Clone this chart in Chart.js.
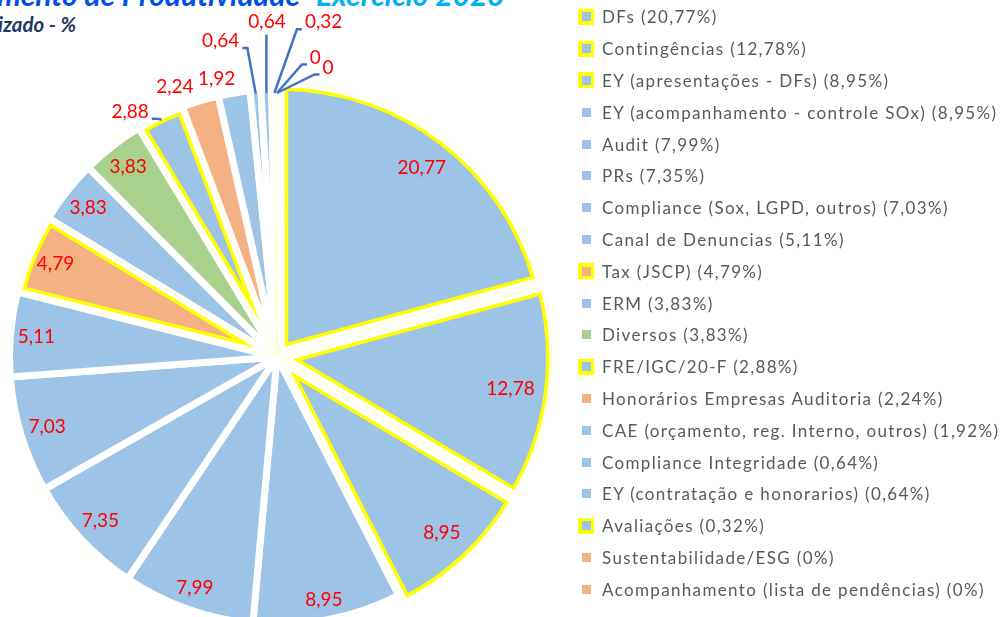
<!DOCTYPE html>
<html lang="pt-BR">
<head>
<meta charset="utf-8">
<title>Acompanhamento de Produtividade</title>
<script src="https://cdn.jsdelivr.net/npm/chart.js@4.4.1/dist/chart.umd.min.js"></script>
<style>
  html, body { margin: 0; padding: 0; background: #fff; overflow: hidden; }
  body { width: 1004px; height: 617px; position: relative; font-family: Lato, "Open Sans", sans-serif; }
  #grafico { position: absolute; left: 0; top: 0; width: 580px; height: 623px; }
  .titulo { position: absolute; top: -21px; font: italic 700 30px Lato, sans-serif; line-height: 30px; white-space: nowrap; }
  #tit1 { right: 704px; color: #0050E6; }
  #tit2 { left: 316px; color: #00B0F0; }
  #subtitulo { position: absolute; right: 928px; top: 12px; font: italic 700 20.5px Lato, sans-serif; color: #1F3864; white-space: nowrap; }
  #legenda { position: absolute; left: 578px; top: 1px; margin: 0; padding: 0; list-style: none; }
  #legenda li { height: 31.8px; display: flex; align-items: center; font-size: 17px; letter-spacing: 1.35px; color: #595959; white-space: nowrap; }
  .marca { width: 16px; height: 16px; margin-right: 8px; display: flex; align-items: center; justify-content: center; }
  .marca span { width: 9px; height: 9px; display: block; }
  .marca.destaque { background: #FFFF00; }
</style>
</head>
<body>
<div class="titulo" id="tit1">Acompanhamento de Produtividade</div>
<div class="titulo" id="tit2">Exercício 2023</div>
<div id="subtitulo">Realizado - %</div>
<canvas id="grafico" width="580" height="623"></canvas>
<ul id="legenda"></ul>
<script>
// dados (% das horas)
const categorias = [
    'DFs', 'Contingências', 'EY (apresentações - DFs)', 'EY (acompanhamento - controle SOx)',
    'Audit', 'PRs', 'Compliance (Sox, LGPD, outros)', 'Canal de Denuncias', 'Tax (JSCP)',
    'ERM', 'Diversos', 'FRE/IGC/20-F', 'Honorários Empresas Auditoria',
    'CAE (orçamento, reg. Interno, outros)', 'Compliance Integridade',
    'EY (contratação e honorarios)', 'Avaliações', 'Sustentabilidade/ESG',
    'Acompanhamento (lista de pendências)'
];
const valores = [20.77, 12.78, 8.95, 8.95, 7.99, 7.35, 7.03, 5.11, 4.79, 3.83, 3.83, 2.88, 2.24, 1.92, 0.64, 0.64, 0.32, 0, 0];
// itens marcados em amarelo
const destaque = [true, true, true, false, false, false, false, false, true, false, false, true, false, false, false, false, true, false, false];
// grupo de cor de cada item
const grupo = ['a', 'a', 'a', 'a', 'a', 'a', 'a', 'a', 'l', 'a', 'v', 'a', 'l', 'a', 'a', 'a', 'a', 'l', 'l'];

const CORES = { a: '#9DC3E6', l: '#F4B183', v: '#A9D18E' };
const AMARELO = '#FFFF00';
const BORDA = 7;

const fmt = v => String(v).replace('.', ',');

// rotulos fora da fatia: [desvio do angulo (graus), distancia alem da borda, linha guia]
const foraDaFatia = {
    11: [-5, 22, true],
    12: [-4, 25, false],
    13: [-3, 21, false],
    14: [-5.5, 57, true],
    15: [0.6, 71, true],
    16: [8.5, 74, true],
    17: [7.3, 38, true],
    18: [10, 30, true]
};

// contorno amarelo por dentro das fatias destacadas
const destaquePlugin = {
    id: 'destaque',
    afterDatasetsDraw(chart) {
        const ctx = chart.ctx;
        chart.getDatasetMeta(0).data.forEach((arco, i) => {
            if (!destaque[i] || !valores[i]) return;
            const base = arco.options;
            [[AMARELO, BORDA], ['#ffffff', BORDA / 2]].forEach(([cor, largura]) => {
                arco.options = Object.assign({}, base, {
                    backgroundColor: 'rgba(0,0,0,0)', borderColor: cor,
                    borderWidth: largura, borderAlign: 'inner'
                });
                arco.draw(ctx);
            });
            arco.options = base;
        });
    }
};

const rotulosPlugin = {
    id: 'rotulos',
    afterDraw(chart) {
        const ctx = chart.ctx;
        ctx.save();
        ctx.font = '19px Lato';
        ctx.textAlign = 'center';
        ctx.textBaseline = 'middle';
        chart.getDatasetMeta(0).data.forEach((arco, i) => {
            const { x, y, startAngle, endAngle, outerRadius } =
                arco.getProps(['x', 'y', 'startAngle', 'endAngle', 'outerRadius'], true);
            const meio = (startAngle + endAngle) / 2;
            const ux = Math.cos(meio), uy = Math.sin(meio);
            const R = outerRadius - BORDA / 2;
            const texto = fmt(valores[i]);
            const w = ctx.measureText(texto).width, h = 19;
            let cx, cy;
            const ajuste = foraDaFatia[i];
            if (!ajuste) {
                // dentro, encostado na borda
                const lim = R - 3;
                const k = (w / 2) * Math.abs(ux) + (h / 2) * Math.abs(uy);
                const c = (w * w + h * h) / 4;
                const d = -k + Math.sqrt(k * k - c + lim * lim);
                cx = x + ux * d;
                cy = y + uy * d;
            } else {
                const [dAng, dDist, guia] = ajuste;
                const a = meio + dAng * Math.PI / 180;
                cx = x + Math.cos(a) * (R + dDist);
                cy = y + Math.sin(a) * (R + dDist);
                if (guia) {
                    const px = x + ux * R, py = y + uy * R;
                    ctx.strokeStyle = '#4472C4';
                    ctx.lineWidth = 2.5;
                    ctx.beginPath();
                    ctx.moveTo(px, py);
                    if (px >= cx - w / 2 - 2 && px <= cx + w / 2 + 2) {
                        ctx.lineTo(px, cy + h / 2 + 3);
                    } else {
                        const s = px > cx ? 1 : -1;
                        const lado = cx + s * w / 2;
                        ctx.lineTo(lado + s * 8, cy + 7);
                        ctx.lineTo(lado + s * 3, cy + 7);
                    }
                    ctx.stroke();
                }
            }
            ctx.fillStyle = '#FF0000';
            ctx.fillText(texto, cx, cy);
        });
        ctx.restore();
    }
};

new Chart(document.getElementById('grafico'), {
    type: 'pie',
    data: {
        labels: categorias,
        datasets: [{
            data: valores,
            backgroundColor: grupo.map(g => CORES[g]),
            borderColor: '#ffffff',
            borderWidth: BORDA,
            offset: valores.map((v, i) => destaque[i] && i < 3 ? 28 : 0),
            radius: 264 + BORDA / 2,
            clip: false
        }]
    },
    options: {
        responsive: false,
        animation: false,
        events: [],
        layout: { padding: { top: 91, bottom: 0, left: 14, right: 40 } },
        plugins: {
            legend: { display: false },
            tooltip: { enabled: false }
        }
    },
    plugins: [destaquePlugin, rotulosPlugin]
});

// legenda em html
const legenda = document.getElementById('legenda');
categorias.forEach((nome, i) => {
    const li = document.createElement('li');
    const marca = document.createElement('div');
    marca.className = 'marca' + (destaque[i] ? ' destaque' : '');
    const q = document.createElement('span');
    q.style.background = CORES[grupo[i]];
    marca.appendChild(q);
    li.appendChild(marca);
    li.appendChild(document.createTextNode(nome + ' (' + fmt(valores[i]) + '%)'));
    legenda.appendChild(li);
});
</script>
</body>
</html>
